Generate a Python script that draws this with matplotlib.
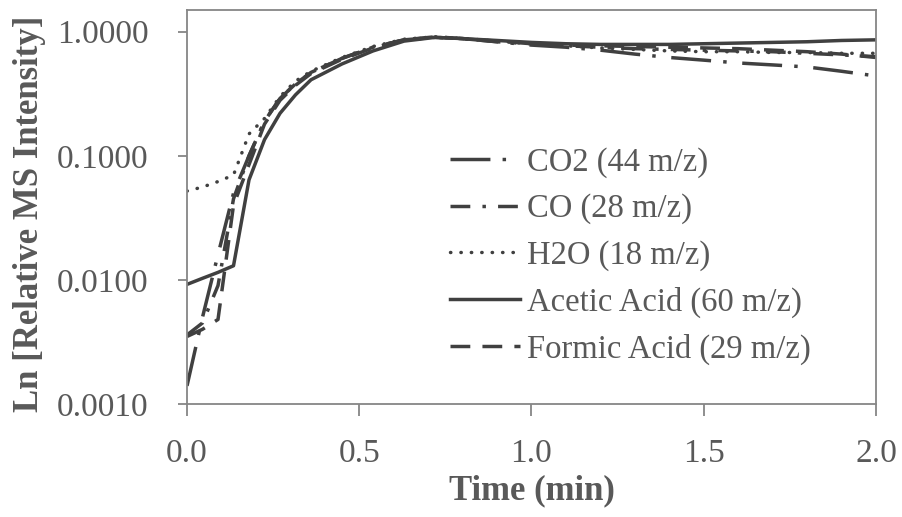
import matplotlib
matplotlib.use("Agg")
import matplotlib.pyplot as plt
from matplotlib.ticker import FixedLocator, FormatStrFormatter, NullLocator

plt.rcParams['font.family'] = ['Liberation Serif', 'DejaVu Serif']

# data
time_min = [0, 0.045, 0.09, 0.135, 0.18, 0.225, 0.27, 0.315, 0.36, 0.45, 0.54, 0.63, 0.72,
            0.8, 0.9, 1.0, 1.1, 1.2, 1.3, 1.4, 1.5, 1.6, 1.7, 1.8, 1.9, 2.0]

co2 = [0.0014, 0.005, 0.016, 0.05, 0.1, 0.19, 0.29, 0.38, 0.47, 0.61, 0.75, 0.86, 0.9,
       0.88, 0.83, 0.78, 0.75, 0.71, 0.66, 0.62, 0.59, 0.56, 0.54, 0.52, 0.48, 0.44]
co = [0.0036, 0.0045, 0.009, 0.045, 0.1, 0.19, 0.29, 0.38, 0.47, 0.61, 0.75, 0.86, 0.9,
      0.88, 0.83, 0.8, 0.77, 0.75, 0.73, 0.72, 0.71, 0.7, 0.69, 0.67, 0.65, 0.63]
h2o = [0.052, 0.056, 0.062, 0.07, 0.15, 0.2, 0.3, 0.4, 0.48, 0.62, 0.76, 0.87, 0.91,
       0.88, 0.84, 0.8, 0.77, 0.74, 0.72, 0.7, 0.69, 0.69, 0.68, 0.68, 0.67, 0.67]
acetic = [0.0092, 0.0103, 0.0115, 0.013, 0.064, 0.135, 0.22, 0.31, 0.41, 0.55, 0.7, 0.84, 0.9,
          0.88, 0.85, 0.82, 0.8, 0.79, 0.79, 0.79, 0.8, 0.81, 0.82, 0.83, 0.85, 0.86]
formic = [0.0035, 0.004, 0.0048, 0.04, 0.085, 0.18, 0.28, 0.37, 0.46, 0.6, 0.74, 0.86, 0.91,
          0.88, 0.84, 0.8, 0.78, 0.77, 0.76, 0.75, 0.74, 0.73, 0.71, 0.69, 0.66, 0.62]

labels = ["CO2 (44 m/z)", "CO (28 m/z)", "H2O (18 m/z)", "Acetic Acid (60 m/z)", "Formic Acid (29 m/z)"]

line_col = '#404040'
axis_col = '#868686'
text_col = '#595959'

fig = plt.figure(figsize=(9.03, 5.17), dpi=100)
ax = fig.add_axes([187 / 903, 1 - 404 / 517, 689 / 903, 394 / 517])

lw = 2.5
ax.plot(time_min, co2, color=line_col, lw=lw, dashes=(11.5, 3.5, 1, 4.5), label=labels[0])
ax.plot(time_min, co, color=line_col, lw=lw, dashes=(5.7, 3.5, 1, 3.5), label=labels[1])
ax.plot(time_min, h2o, color=line_col, lw=lw, dashes=(0.1, 2.9), dash_capstyle='round', label=labels[2])
ax.plot(time_min, acetic, color=line_col, lw=lw, label=labels[3])
ax.plot(time_min, formic, color=line_col, lw=lw, dashes=(5.7, 3.5), label=labels[4])

ax.set_yscale('log')
ax.set_xlim(0, 2.0)
ax.set_ylim(0.001, 1.496)
ax.yaxis.set_major_locator(FixedLocator([0.001, 0.01, 0.1, 1.0]))
ax.yaxis.set_major_formatter(FormatStrFormatter('%.4f'))
ax.yaxis.set_minor_locator(NullLocator())
ax.set_xticks([0, 0.5, 1.0, 1.5, 2.0])
ax.xaxis.set_major_formatter(FormatStrFormatter('%.1f'))

for s in ax.spines.values():
    s.set_color(axis_col)
    s.set_linewidth(1.3)
ax.tick_params(axis='y', direction='out', length=6.5, width=1.3, color=axis_col,
               labelsize=24, labelcolor=text_col, pad=21)
ax.tick_params(axis='x', direction='out', length=8.5, width=1.3, color=axis_col,
               labelsize=24, labelcolor=text_col, pad=16)

ax.set_xlabel("Time (min)", fontsize=25, fontweight='bold', color=text_col, labelpad=4)
ax.set_ylabel("Ln [Relative MS Intensity]", fontsize=25, fontweight='bold', color=text_col)
ax.yaxis.set_label_coords(-0.205, 0.483)

leg = ax.legend(loc='upper left', bbox_to_anchor=(450 / 903, 1 - 147 / 517),
                bbox_transform=fig.transFigure, frameon=False, fontsize=23.5,
                handlelength=2.15, handletextpad=0.22, labelspacing=0.48, borderpad=0,
                borderaxespad=0)
for t in leg.get_texts():
    t.set_color(text_col)

fig.savefig("out.png", dpi=100)
